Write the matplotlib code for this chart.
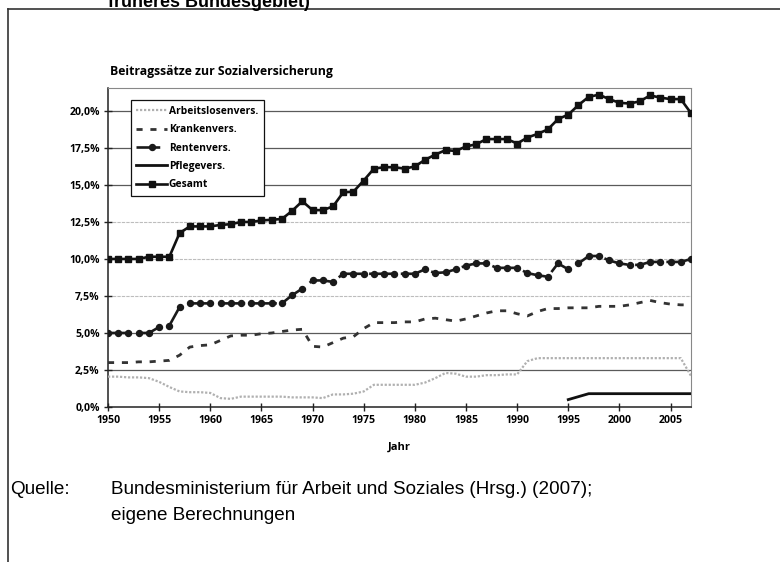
import numpy as np
import matplotlib.pyplot as plt
from matplotlib.lines import Line2D

# Beitragssaetze (Arbeitnehmeranteil) in Prozent
years = list(range(1950, 2008))

gesamt = [10.0, 10.0, 10.0, 10.0, 10.15, 10.15, 10.15, 11.75, 12.2, 12.2,
          12.2, 12.3, 12.35, 12.5, 12.5, 12.6, 12.65, 12.7, 13.25, 13.9,
          13.3, 13.3, 13.55, 14.5, 14.55, 15.3, 16.1, 16.2, 16.2, 16.1,
          16.25, 16.7, 17.05, 17.35, 17.3, 17.6, 17.75, 18.1, 18.1, 18.1,
          17.8, 18.2, 18.45, 18.75, 19.45, 19.75, 20.4, 20.95, 21.1, 20.8,
          20.55, 20.5, 20.65, 21.05, 20.9, 20.8, 20.8, 19.85]

renten = [5.0, 5.0, 5.0, 5.0, 5.0, 5.4, 5.5, 6.75, 7.0, 7.0,
          7.0, 7.0, 7.0, 7.0, 7.0, 7.0, 7.0, 7.0, 7.55, 8.0,
          8.55, 8.55, 8.45, 9.0, 9.0, 9.0, 9.0, 9.0, 9.0, 9.0,
          9.0, 9.3, 9.05, 9.1, 9.3, 9.55, 9.7, 9.7, 9.4, 9.4,
          9.4, 9.05, 8.9, 8.8, 9.7, 9.3, 9.7, 10.2, 10.2, 9.9,
          9.7, 9.6, 9.6, 9.8, 9.8, 9.8, 9.8, 10.0]

kranken = [3.0, 3.0, 3.0, 3.05, 3.05, 3.1, 3.15, 3.5, 4.05, 4.15,
           4.2, 4.5, 4.8, 4.85, 4.85, 4.95, 5.0, 5.1, 5.2, 5.25,
           4.1, 4.05, 4.35, 4.65, 4.75, 5.3, 5.7, 5.7, 5.7, 5.75,
           5.75, 5.95, 6.0, 5.9, 5.8, 5.95, 6.15, 6.35, 6.5, 6.5,
           6.3, 6.15, 6.45, 6.65, 6.65, 6.7, 6.7, 6.7, 6.8, 6.8,
           6.8, 6.9, 7.05, 7.2, 7.05, 6.95, 6.9, 6.9]

arbeitslos = [2.05, 2.05, 2.0, 2.0, 1.95, 1.7, 1.35, 1.05, 1.0, 1.0,
              0.95, 0.6, 0.55, 0.7, 0.7, 0.7, 0.7, 0.7, 0.65, 0.65,
              0.65, 0.6, 0.85, 0.85, 0.9, 1.05, 1.5, 1.5, 1.5, 1.5,
              1.5, 1.65, 1.95, 2.3, 2.25, 2.05, 2.05, 2.15, 2.15, 2.2,
              2.2, 3.1, 3.3, 3.3, 3.3, 3.3, 3.3, 3.3, 3.3, 3.3,
              3.3, 3.3, 3.3, 3.3, 3.3, 3.3, 3.3, 2.1]

# Pflegeversicherung erst ab 1995
pflege = [None] * 45 + [0.5, 0.7, 0.9, 0.9, 0.9, 0.9, 0.9, 0.9, 0.9, 0.9,
                        0.9, 0.9, 0.9]

y_ticks = [0.0, 2.5, 5.0, 7.5, 10.0, 12.5, 15.0, 17.5, 20.0]
x_ticks = list(range(1950, 2010, 5))

chart_font = 'Open Sans'
note_font = ['Liberation Sans', 'DejaVu Sans']

fig = plt.figure(figsize=(7.8, 5.62), dpi=100)
ax = fig.add_axes([108 / 780, 1 - 407 / 562, 583 / 780, 319 / 562])

# Gitterlinien (im Scan teils dunkel, teils hell)
for yv in y_ticks[1:]:
    if yv in (7.5, 10.0, 12.5):
        ax.axhline(yv, color='#bdbdbd', lw=0.8, ls=(0, (3, 1)), zorder=1)
    else:
        ax.axhline(yv, color='#5a5a5a', lw=0.9, zorder=1)

x = np.array(years)
ax.plot(x, arbeitslos, color='#b0b0b0', lw=1.6, ls=(0, (1, 0.8)),
        label='Arbeitslosenvers.', zorder=3)
ax.plot(x, kranken, color='#333333', lw=2.0, ls=(0, (2.2, 2.8)),
        label='Krankenvers.', zorder=3)
ax.plot(x, renten, color='#1a1a1a', lw=1.9, ls=(0, (9, 3)), marker='o',
        ms=4.3, label='Rentenvers.', zorder=4)
ax.plot(x, np.array(pflege, dtype=float), color='#111111', lw=2.0,
        label='Pflegevers.', zorder=4)
ax.plot(x, gesamt, color='#111111', lw=1.9, marker='s', ms=4.2,
        label='Gesamt', zorder=5)

ax.set_xlim(1950, 2007)
ax.set_ylim(0, 21.55)
ax.set_xticks(x_ticks)
ax.set_yticks(y_ticks)
ax.set_yticklabels([f'{v:.1f}%'.replace('.', ',') for v in y_ticks])
ax.tick_params(axis='both', direction='inout', length=6, width=1,
               color='#222222', labelsize=7.6, pad=3)
for lab in ax.get_xticklabels() + ax.get_yticklabels():
    lab.set_fontfamily(chart_font)
    lab.set_fontweight('bold')

for side in ('top', 'right'):
    ax.spines[side].set_color('#888888')
    ax.spines[side].set_linewidth(0.8)
    ax.spines[side].set_linestyle((0, (1, 1)))
for side in ('left', 'bottom'):
    ax.spines[side].set_color('#222222')
    ax.spines[side].set_linewidth(1.1)

ax.set_xlabel('Jahr', fontfamily=chart_font, fontweight='bold', fontsize=8,
              labelpad=11)

leg = ax.legend(loc='upper left', bbox_to_anchor=(0.039, 0.962),
                borderaxespad=0, fancybox=False, framealpha=1,
                edgecolor='#111111', handlelength=3.0, handletextpad=0.15,
                labelspacing=0.72, borderpad=0.55,
                prop={'family': chart_font, 'weight': 'bold', 'size': 7.4})
leg.get_frame().set_linewidth(0.9)
leg.set_zorder(10)

# Texte um das Diagramm
fig.text(110 / 780, 1 - 71 / 562, 'Beitragssätze zur Sozialversicherung',
         fontfamily=chart_font, fontweight='bold', fontsize=8.8,
         ha='left', va='center')
fig.text(209 / 780, 1 - 7 / 562, 'früheres Bundesgebiet)',
         fontfamily=['Liberation Sans', 'DejaVu Sans'], fontweight='bold',
         fontsize=13, ha='center', va='baseline')
fig.text(10 / 780, 1 - 490 / 562, 'Quelle:', fontfamily=note_font,
         fontsize=13.6, ha='left', va='center')
fig.text(111 / 780, 1 - 490 / 562,
         'Bundesministerium für Arbeit und Soziales (Hrsg.) (2007);',
         fontfamily=note_font, fontsize=13.6, ha='left', va='center')
fig.text(111 / 780, 1 - 516 / 562, 'eigene Berechnungen',
         fontfamily=note_font, fontsize=13.6, ha='left', va='center')

# Rahmen oben und links
fig.add_artist(Line2D([8 / 780, 1.0], [1 - 9 / 562, 1 - 9 / 562],
                      color='#333333', lw=1.2))
fig.add_artist(Line2D([8 / 780, 8 / 780], [0.0, 1 - 9 / 562],
                      color='#333333', lw=1.2))

fig.savefig('out.png', dpi=100)
